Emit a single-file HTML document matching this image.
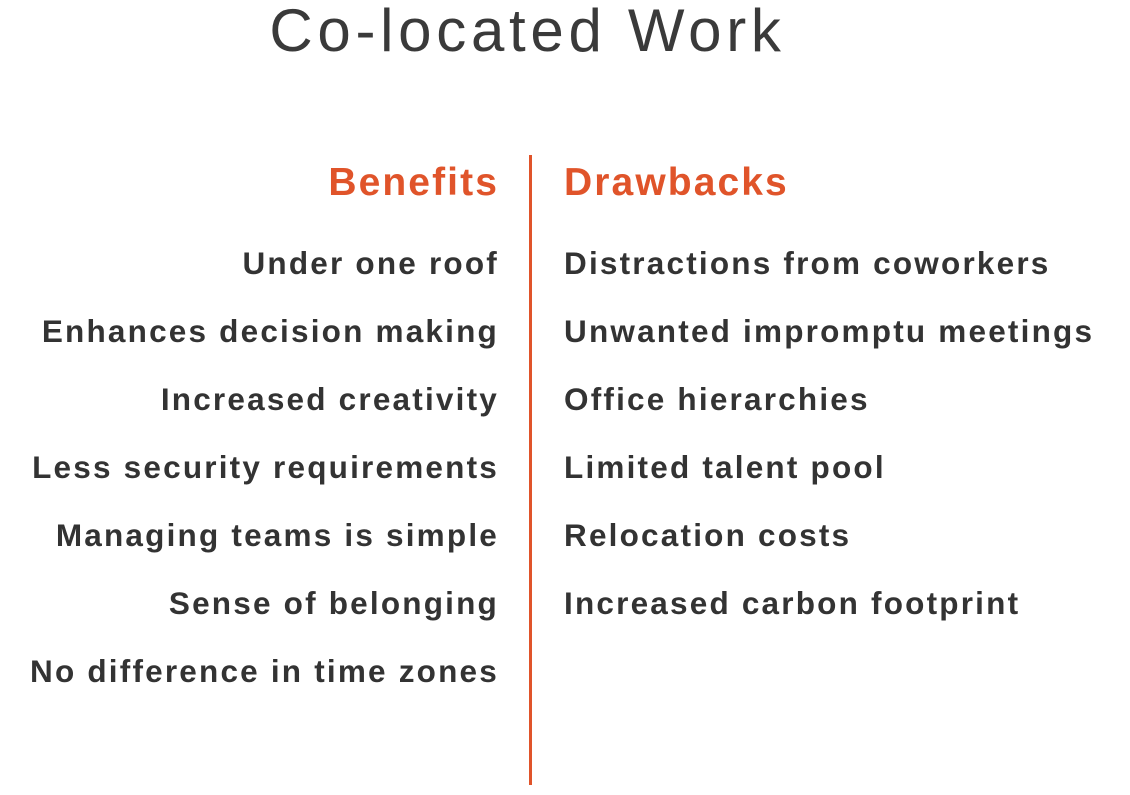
<!DOCTYPE html>
<html><head><meta charset="utf-8"><style>
body{margin:0;width:1130px;height:795px;background:#fff;position:relative;overflow:hidden;font-family:"Liberation Sans",sans-serif;}
.t{position:absolute;left:0;width:1055px;text-align:center;top:-4px;font-size:60px;color:#3a3a3a;font-weight:normal;letter-spacing:4.7px}
.l{position:absolute;right:631px;text-align:right;white-space:nowrap}
.r{position:absolute;left:564px;white-space:nowrap}
.h{font-size:39px;font-weight:bold;color:#e0542a;top:161px;letter-spacing:2.1px}
.i{font-size:31.5px;font-weight:bold;color:#333;letter-spacing:2.2px}
.div{position:absolute;left:529px;top:155px;width:3px;height:630px;background:#e0542a}
</style></head><body>
<div class="t">Co-located Work</div>
<div class="div"></div>
<div class="l h">Benefits</div>
<div class="r h">Drawbacks</div>
<div class="l i" style="top:245px">Under one roof</div>
<div class="l i" style="top:313px">Enhances decision making</div>
<div class="l i" style="top:381px">Increased creativity</div>
<div class="l i" style="top:449px">Less security requirements</div>
<div class="l i" style="top:517px">Managing teams is simple</div>
<div class="l i" style="top:585px">Sense of belonging</div>
<div class="l i" style="top:653px">No difference in time zones</div>
<div class="r i" style="top:245px">Distractions from coworkers</div>
<div class="r i" style="top:313px">Unwanted impromptu meetings</div>
<div class="r i" style="top:381px">Office hierarchies</div>
<div class="r i" style="top:449px">Limited talent pool</div>
<div class="r i" style="top:517px">Relocation costs</div>
<div class="r i" style="top:585px">Increased carbon footprint</div>
</body></html>
